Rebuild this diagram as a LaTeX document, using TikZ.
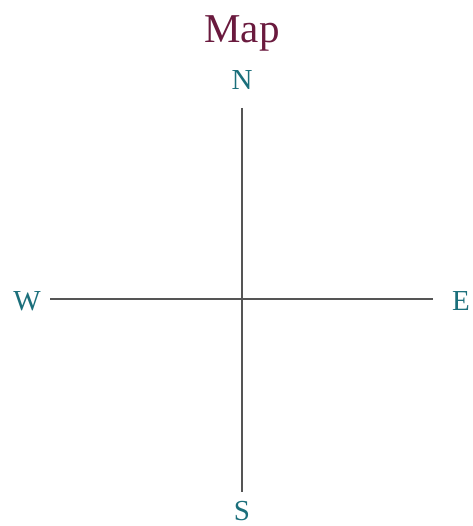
\documentclass[tikz,border=0pt]{standalone}
\usepackage{fontspec}
\setmainfont{Liberation Serif}
\definecolor{titlec}{HTML}{6A1A3E}
\definecolor{labc}{HTML}{1B6F7B}
\definecolor{linec}{HTML}{555555}
\begin{document}
\begin{tikzpicture}[x=1pt,y=-1pt,
  lab/.style={text=labc,font=\fontsize{29}{31}\selectfont,inner sep=0pt,anchor=center},
  axis/.style={draw=linec,line width=2.6pt}]
\useasboundingbox (0,0) rectangle (472,526);
\node[text=titlec,font=\fontsize{41}{44}\selectfont,inner sep=0pt,anchor=base] (title) at (242,43) {Map};
\node[lab,anchor=base] (n) at (242,90) {N};
\node[lab,anchor=base] (s) at (242,520) {S};
\node[lab,anchor=base] (w) at (27,310) {W};
\node[lab,anchor=base] (e) at (461,310) {E};
\coordinate (nt) at (242,108);
\coordinate (sb) at (242,492);
\coordinate (wl) at (50,299);
\coordinate (er) at (433,299);
\draw[axis] (nt) -- (sb);
\draw[axis] (wl) -- (er);
\end{tikzpicture}
\end{document}
